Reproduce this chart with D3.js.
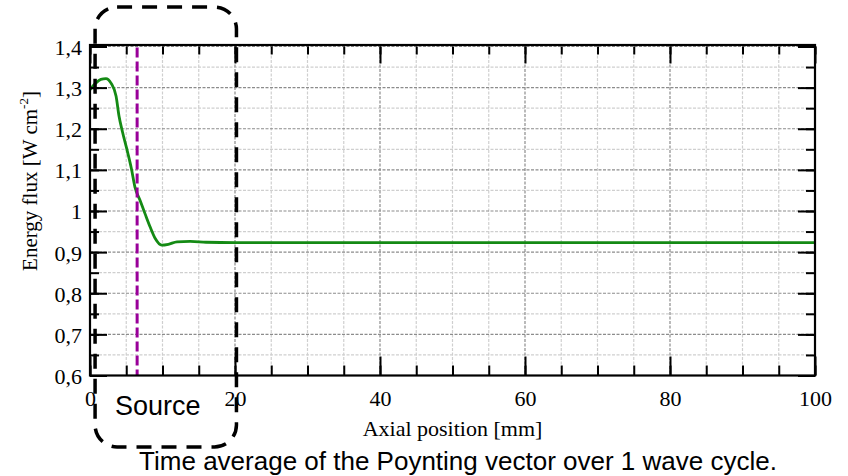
<!DOCTYPE html>
<html>
<head>
<meta charset="utf-8">
<script src="https://cdn.jsdelivr.net/npm/d3@7"></script>
<style>
  body { margin: 0; background: #fff; }
  svg { display: block; }
</style>
</head>
<body>
<div id="chart-area"></div>
<script>
// axial position [mm] and time-averaged energy flux [W cm-2]
const positions = [0, 0.8, 1.5, 2.2, 2.9, 3.6, 4.0, 4.5, 5.2, 5.7, 6.2, 6.9, 7.6, 8.3, 9.0, 9.9, 10.8, 12.0, 13.8, 16, 20, 30, 40, 60, 80, 100];
const flux = [1.295, 1.311, 1.320, 1.322, 1.311, 1.279, 1.231, 1.191, 1.142, 1.104, 1.058, 1.026, 0.993, 0.961, 0.933, 0.917, 0.919, 0.925, 0.926, 0.924, 0.923, 0.923, 0.923, 0.923, 0.923, 0.923];

const xTicks = [0, 20, 40, 60, 80, 100];
const xTickLabels = ["0", "20", "40", "60", "80", "100"];
const yTicks = [0.6, 0.7, 0.8, 0.9, 1.0, 1.1, 1.2, 1.3, 1.4];
const yTickLabels = ["0,6", "0,7", "0,8", "0,9", "1", "1,1", "1,2", "1,3", "1,4"];
const xMinor = d3.range(0, 101, 5);
const yMinor = d3.range(0.6, 1.4001, 0.05);

// source annotation
const sourceCenter = 6.5;
const sourceBox = [0.7, 20.2];

const W = 848, H = 476;
const margin = { left: 90, right: 33, top: 46.5, bottom: 100.5 };
const width = W - margin.left - margin.right;
const height = H - margin.top - margin.bottom;

const svg = d3.select("#chart-area")
    .append("svg")
    .attr("width", W)
    .attr("height", H);
const g = svg.append("g")
    .attr("transform", "translate(" + margin.left + ", " + margin.top + ")");

const x = d3.scaleLinear().domain([0, 100]).range([0, width]);
const y = d3.scaleLinear().domain([0.6, 1.4]).range([height, 0]);

// grid - minor first, then major
g.append("g").selectAll("line")
    .data(xMinor.filter(d => d % 20 !== 0))
    .enter().append("line")
    .attr("x1", d => x(d)).attr("x2", d => x(d))
    .attr("y1", 0).attr("y2", height)
    .attr("stroke", "#cfcfcf").attr("stroke-width", 1.2)
    .attr("stroke-dasharray", "3,1.5");
g.append("g").selectAll("line")
    .data(yMinor.filter((d, i) => i % 2 === 1))
    .enter().append("line")
    .attr("x1", 0).attr("x2", width)
    .attr("y1", d => y(d)).attr("y2", d => y(d))
    .attr("stroke", "#cfcfcf").attr("stroke-width", 1.2)
    .attr("stroke-dasharray", "3,1.5");
g.append("g").selectAll("line")
    .data(xTicks.slice(1, -1))
    .enter().append("line")
    .attr("x1", d => x(d)).attr("x2", d => x(d))
    .attr("y1", 0).attr("y2", height)
    .attr("stroke", "#8c8c8c").attr("stroke-width", 1.2)
    .attr("stroke-dasharray", "3,1.5");
g.append("g").selectAll("line")
    .data(yTicks.slice(1))
    .enter().append("line")
    .attr("x1", 0).attr("x2", width)
    .attr("y1", d => y(d)).attr("y2", d => y(d))
    .attr("stroke", "#8c8c8c").attr("stroke-width", 1.2)
    .attr("stroke-dasharray", "3,1.5");

// curve
const line = d3.line()
    .x((d, i) => x(positions[i]))
    .y(d => y(d))
    .curve(d3.curveMonotoneX);
g.append("path")
    .datum(flux)
    .attr("fill", "none")
    .attr("stroke", "#148a14")
    .attr("stroke-width", 2.8)
    .attr("d", line);

// source centre line
g.append("line")
    .attr("x1", x(sourceCenter)).attr("x2", x(sourceCenter))
    .attr("y1", 1).attr("y2", height)
    .attr("stroke", "#990099")
    .attr("stroke-width", 3)
    .attr("stroke-dasharray", "10,4");

// axes with inward ticks
const styleAxis = sel => {
    sel.select(".domain").remove();
    sel.selectAll("line").attr("stroke", "#000").attr("stroke-width", 2);
    sel.selectAll("text")
        .attr("font-family", "'Liberation Serif', 'Times New Roman', serif")
        .attr("font-size", "22px")
        .attr("fill", "#000");
};
g.append("g")
    .attr("transform", "translate(0, " + height + ")")
    .call(d3.axisBottom(x).tickValues(xTicks).tickSize(-19).tickPadding(10)
        .tickFormat((d, i) => xTickLabels[i]))
    .call(styleAxis)
    .selectAll("text").attr("dy", "0.95em");
g.append("g")
    .attr("transform", "translate(0, " + height + ")")
    .call(d3.axisBottom(x).tickValues(xMinor).tickSize(-10).tickFormat(""))
    .call(styleAxis);
g.append("g")
    .call(d3.axisTop(x).tickValues(xTicks).tickSize(-17).tickFormat(""))
    .call(styleAxis);
g.append("g")
    .call(d3.axisTop(x).tickValues(xMinor).tickSize(-8).tickFormat(""))
    .call(styleAxis);
g.append("g")
    .call(d3.axisLeft(y).tickValues(yTicks).tickSize(-17).tickPadding(8)
        .tickFormat((d, i) => yTickLabels[i]))
    .call(styleAxis)
    .selectAll("text").attr("dy", "0.36em");
g.append("g")
    .call(d3.axisLeft(y).tickValues(yMinor).tickSize(-9).tickFormat(""))
    .call(styleAxis);
g.append("g")
    .attr("transform", "translate(" + width + ", 0)")
    .call(d3.axisRight(y).tickValues(yTicks).tickSize(-17).tickFormat(""))
    .call(styleAxis);
g.append("g")
    .attr("transform", "translate(" + width + ", 0)")
    .call(d3.axisRight(y).tickValues(yMinor).tickSize(-9).tickFormat(""))
    .call(styleAxis);

// frame
g.append("rect")
    .attr("x", 0).attr("y", -1.5)
    .attr("width", width).attr("height", height + 1.5)
    .attr("fill", "none")
    .attr("stroke", "#000")
    .attr("stroke-width", 2.2);

// x label
g.append("text")
    .attr("x", width / 2)
    .attr("y", height + 60)
    .attr("font-family", "'Liberation Serif', 'Times New Roman', serif")
    .attr("font-size", "22px")
    .attr("text-anchor", "middle")
    .text("Axial position [mm]");

// y label
const yl = svg.append("text")
    .attr("transform", "translate(37, 181) rotate(-90)")
    .attr("font-family", "'Liberation Serif', 'Times New Roman', serif")
    .attr("font-size", "21px")
    .attr("text-anchor", "middle");
yl.append("tspan").text("Energy flux [W cm");
yl.append("tspan").attr("font-size", "13px").attr("dy", -9).text("-2");
yl.append("tspan").attr("dy", 9).text("]");

// source box annotation
svg.append("rect")
    .attr("x", margin.left + x(sourceBox[0]))
    .attr("y", 7)
    .attr("width", x(sourceBox[1]) - x(sourceBox[0]))
    .attr("height", 440)
    .attr("rx", 22)
    .attr("fill", "none")
    .attr("stroke", "#000")
    .attr("stroke-width", 3.5)
    .attr("stroke-dasharray", "15,10");

svg.append("text")
    .attr("x", 115)
    .attr("y", 415)
    .attr("font-family", "'Liberation Sans', Arial, sans-serif")
    .attr("font-size", "27px")
    .text("Source");

// caption
svg.append("text")
    .attr("x", 458)
    .attr("y", 470)
    .attr("font-family", "'Liberation Sans', Arial, sans-serif")
    .attr("font-size", "26px")
    .attr("text-anchor", "middle")
    .text("Time average of the Poynting vector over 1 wave cycle.");
</script>
</body>
</html>
